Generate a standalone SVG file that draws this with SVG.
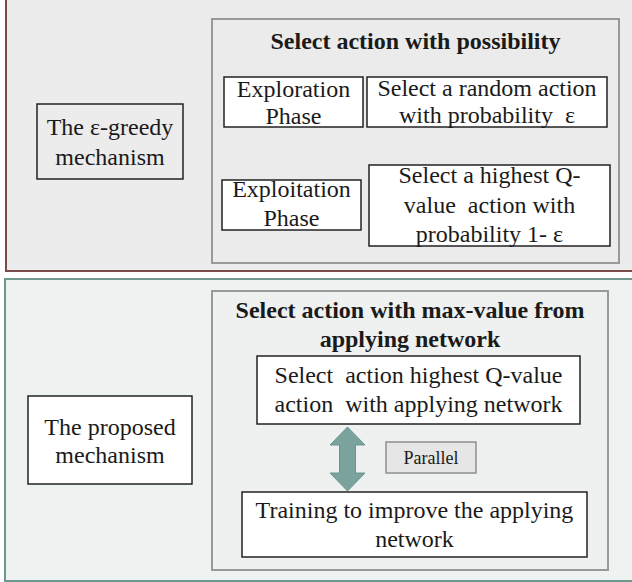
<svg xmlns="http://www.w3.org/2000/svg" width="632" height="582" viewBox="0 0 632 582">
<style>
text{font-family:"Liberation Serif","Times New Roman",serif;font-size:24px;fill:#1a1a1a;text-anchor:middle;white-space:pre}
.b{font-weight:bold}
.box{fill:#fff;stroke:#222;stroke-width:1.5}
.inner{stroke:#999;stroke-width:2}
</style>
<rect x="6" y="-1" width="640" height="272" fill="#ececec" stroke="#7a4a4a" stroke-width="2"/>
<rect x="5" y="279" width="640" height="302" fill="#eef2f1" stroke="#6f968f" stroke-width="2"/>
<g id="top-group">
<rect class="inner" x="212" y="19" width="407" height="244" fill="#ebebeb"/>
<text class="b" x="415.5" y="49">Select action with possibility</text>
</g>
<g id="egreedy">
<rect x="37" y="104" width="146" height="75" fill="#ececec" stroke="#222" stroke-width="1.5"/>
<text x="110" y="135">The ε-greedy</text>
<text x="110" y="165">mechanism</text>
</g>
<g id="exploration">
<rect class="box" x="224" y="77" width="139" height="50"/>
<text x="293.5" y="97">Exploration</text>
<text x="293.5" y="124">Phase</text>
</g>
<g id="random-action">
<rect class="box" x="367" y="77" width="240" height="50"/>
<text x="487" y="96">Select a random action</text>
<text x="487" y="123" xml:space="preserve">with probability  ε</text>
</g>
<g id="exploitation">
<rect class="box" x="222" y="180" width="139" height="50"/>
<text x="291.5" y="197">Exploitation</text>
<text x="291.5" y="226">Phase</text>
</g>
<g id="highest-q">
<rect class="box" x="369" y="165" width="241" height="81"/>
<text x="489.5" y="183">Select a highest Q-</text>
<text x="489.5" y="213" xml:space="preserve">value  action with</text>
<text x="489.5" y="242">probability 1- ε</text>
</g>
<g id="bottom-group">
<rect class="inner" x="212" y="291" width="396" height="279" fill="#eef1f0"/>
<text class="b" x="410" y="318">Select action with max-value from</text>
<text class="b" x="410" y="347">applying network</text>
</g>
<g id="proposed">
<rect class="box" x="28" y="396" width="164" height="88"/>
<text x="110" y="435">The proposed</text>
<text x="110" y="463">mechanism</text>
</g>
<g id="select-q">
<rect class="box" x="257" y="356" width="323" height="68"/>
<text x="418.5" y="383" xml:space="preserve">Select  action highest Q-value</text>
<text x="418.5" y="412" xml:space="preserve">action  with applying network</text>
</g>
<g id="training">
<rect class="box" x="242" y="492" width="345" height="65"/>
<text x="414.5" y="518">Training to improve the applying</text>
<text x="414.5" y="547">network</text>
</g>
<g id="parallel">
<rect x="386" y="442" width="90" height="31" fill="#e6e6e6" stroke="#8f8f8f" stroke-width="1.5"/>
<text x="431" y="464" style="font-size:18px">Parallel</text>
</g>
<g id="connectors">
<polygon points="347.5,427 365,445 355.5,445 355.5,473 365,473 347.5,491 330,473 339.5,473 339.5,445 330,445" fill="#79a39c" stroke="#6a958e" stroke-width="1"/>
</g>
</svg>
